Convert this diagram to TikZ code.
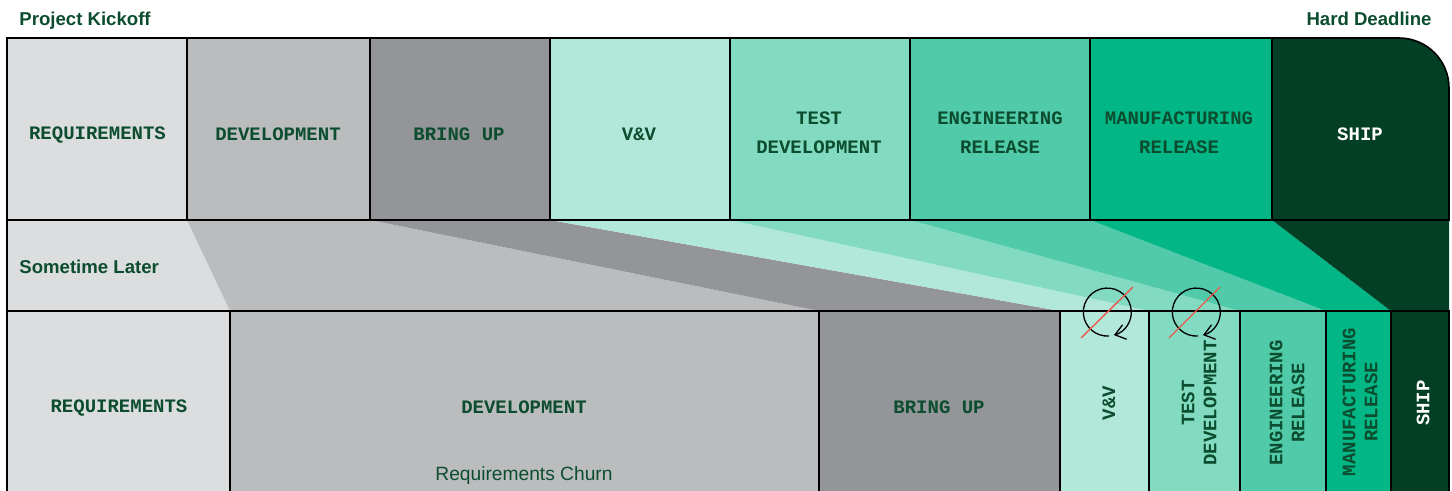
\documentclass[tikz,border=0pt]{standalone}
\usepackage{fontspec}
\setmainfont{Liberation Sans}
\setmonofont{Liberation Mono}
\usetikzlibrary{arrows.meta}
\definecolor{reqgrey}{HTML}{DCDDDF}
\definecolor{devgrey}{HTML}{BBBCBE}
\definecolor{bringgrey}{HTML}{939598}
\definecolor{vvmint}{HTML}{B2E8DA}
\definecolor{testmint}{HTML}{82DBC0}
\definecolor{engmint}{HTML}{50CAA8}
\definecolor{mfggreen}{HTML}{03B685}
\definecolor{shipgreen}{HTML}{033F24}
\definecolor{inkgreen}{HTML}{0B4D2E}
\definecolor{slashred}{HTML}{E8594F}
\tikzset{
  stagebox/.style={draw=black, line width=0.8pt, inner sep=0pt, outer sep=0pt},
  toprow/.style={stagebox, minimum height=91pt},
  lowrow/.style={stagebox, minimum height=95pt},
  stagename/.style={text=inkgreen, align=center, inner sep=0pt,
    font=\fontsize{9.5}{14.5}\selectfont\ttfamily\bfseries},
  sidename/.style={stagename, rotate=90,
    font=\fontsize{9.5}{11}\selectfont\ttfamily\bfseries},
  note/.style={text=inkgreen, inner sep=0pt, font=\fontsize{9.3}{11}\selectfont\bfseries},
  loopline/.style={line width=0.65pt, -{Straight Barb[length=5pt,width=7.5pt]}},
  slash/.style={draw=slashred, line width=0.7pt},
}
\begin{document}
\begin{tikzpicture}[x=0.5pt, y=-0.5pt]
  \clip (0,0) rectangle (1452,491);
  % bands between the two rows
  \fill[reqgrey] (7,220) -- (187,220) -- (230,311) -- (7,311) -- cycle;
  \fill[devgrey] (187,220) -- (370,220) -- (819,311) -- (230,311) -- cycle;
  \fill[bringgrey] (370,220) -- (550,220) -- (1060,311) -- (819,311) -- cycle;
  \fill[vvmint] (550,220) -- (730,220) -- (1149,311) -- (1060,311) -- cycle;
  \fill[testmint] (730,220) -- (910,220) -- (1240,311) -- (1149,311) -- cycle;
  \fill[engmint] (910,220) -- (1090,220) -- (1326,311) -- (1240,311) -- cycle;
  \fill[mfggreen] (1090,220) -- (1272,220) -- (1391,311) -- (1326,311) -- cycle;
  \fill[shipgreen] (1272,220) -- (1449,220) -- (1449,311) -- (1391,311) -- cycle;
  % planned row
  \node[toprow, fill=reqgrey, minimum width=90pt] (topreq) at (97,129) {};
  \node[toprow, fill=devgrey, minimum width=91.5pt] (topdev) at (278.5,129) {};
  \node[toprow, fill=bringgrey, minimum width=90pt] (topbring) at (460,129) {};
  \node[toprow, fill=vvmint, minimum width=90pt] (topvv) at (640,129) {};
  \node[toprow, fill=testmint, minimum width=90pt] (toptest) at (820,129) {};
  \node[toprow, fill=engmint, minimum width=90pt] (topeng) at (1000,129) {};
  \node[toprow, fill=mfggreen, minimum width=91pt] (topmfg) at (1181,129) {};
  \filldraw[fill=shipgreen, draw=black, line width=0.8pt]
    (1272,38) -- (1399,38) arc[start angle=-90, end angle=0, radius=50]
    -- (1449,220) -- (1272,220) -- cycle;
  % actual row
  \node[lowrow, fill=reqgrey, minimum width=111.5pt] (lowreq) at (118.5,406) {};
  \node[lowrow, fill=devgrey, minimum width=294.5pt] (lowdev) at (524.5,406) {};
  \node[lowrow, fill=bringgrey, minimum width=120.5pt] (lowbring) at (939.5,406) {};
  \node[lowrow, fill=vvmint, minimum width=44.5pt] (lowvv) at (1104.5,406) {};
  \node[lowrow, fill=testmint, minimum width=45.5pt] (lowtest) at (1194.5,406) {};
  \node[lowrow, fill=engmint, minimum width=43pt] (loweng) at (1283,406) {};
  \node[lowrow, fill=mfggreen, minimum width=32.5pt] (lowmfg) at (1358.5,406) {};
  \node[lowrow, fill=shipgreen, minimum width=29pt] (lowship) at (1420,406) {};
  \draw[line width=0.8pt] (topreq.south west) -- (lowreq.north west);
  % names
  \node[stagename] (reqname) at (97.5,135.5) {REQUIREMENTS};
  \node[stagename] (devname) at (278,134) {DEVELOPMENT};
  \node[stagename] (bringname) at (459,134) {BRING UP};
  \node[stagename] (vvname) at (639,134) {V\&V};
  \node[stagename] (testname) at (819,133) {TEST\\DEVELOPMENT};
  \node[stagename] (engname) at (1000,133) {ENGINEERING\\RELEASE};
  \node[stagename] (mfgname) at (1179,133) {MANUFACTURING\\RELEASE};
  \node[stagename, text=white] (shipname) at (1360,134) {SHIP};
  \node[stagename] (lowreqname) at (119,408) {REQUIREMENTS};
  \node[stagename] (lowdevname) at (524,407) {DEVELOPMENT};
  \node[stagename] (lowbringname) at (939,407) {BRING UP};
  \node[sidename] (lowvvname) at (1109,403) {V\&V};
  \node[sidename] (lowtestname) at (1199,403) {TEST\\DEVELOPMENT};
  \node[sidename] (lowengname) at (1287,403) {ENGINEERING\\RELEASE};
  \node[sidename] (lowmfgname) at (1360,402) {MANUFACTURING\\RELEASE};
  \node[sidename, text=white] (lowshipname) at (1423,403) {SHIP};
  % notes
  \node[note, anchor=base west] (kickoff) at (19,26) {Project Kickoff};
  \node[note, anchor=base east] (deadline) at (1432,26) {Hard Deadline};
  \node[note, anchor=base west] (later) at (19,274) {Sometime Later};
  \node[note, anchor=base, font=\fontsize{9.6}{11}\selectfont] (churn) at (524,481) {Requirements Churn};
  % dropped loops
  \coordinate (vvloop) at (1109,336);
  \coordinate (testloop) at (1198,336);
  \draw[loopline] (vvloop) arc[start angle=86, end angle=434, radius=24];
  \draw[loopline] (testloop) arc[start angle=86, end angle=434, radius=24];
  \coordinate (vvslashA) at (1081,338);
  \coordinate (vvslashB) at (1133,287);
  \coordinate (testslashA) at (1169,338);
  \coordinate (testslashB) at (1220,287);
  \draw[slash] (vvslashA) -- (vvslashB);
  \draw[slash] (testslashA) -- (testslashB);
\end{tikzpicture}
\end{document}
